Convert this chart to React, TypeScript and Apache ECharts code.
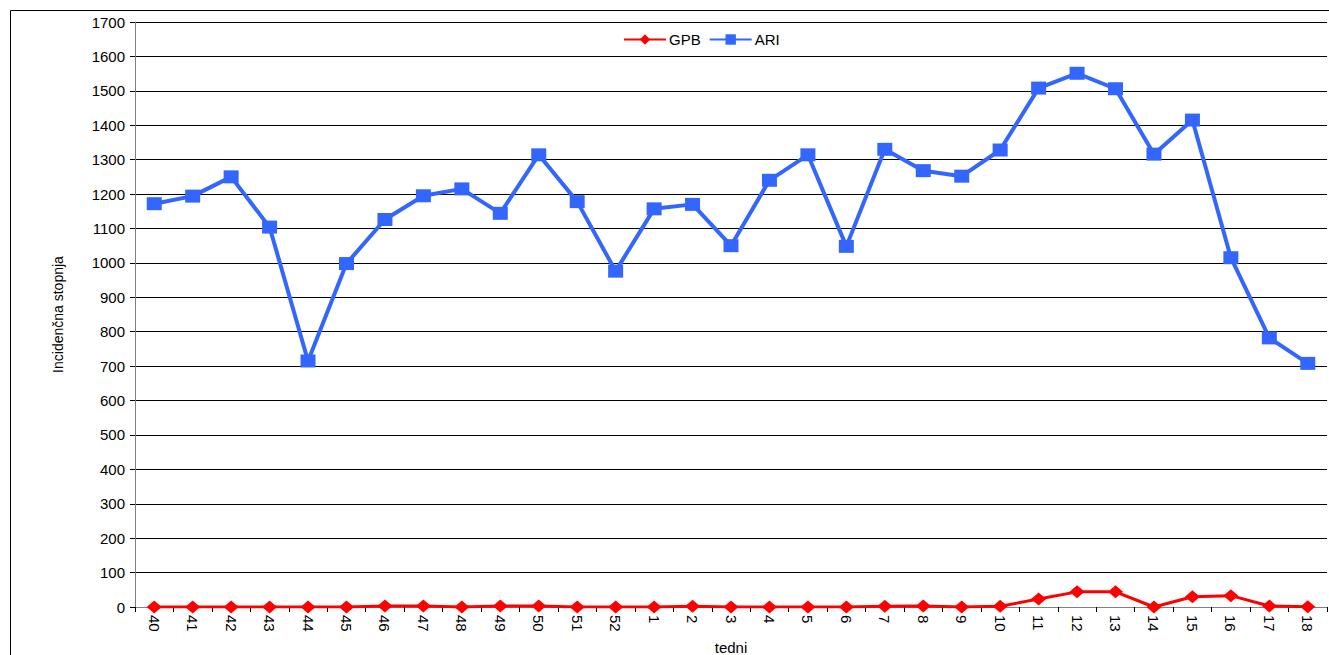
import React, { useEffect, useRef } from "react";
import * as echarts from "echarts";

const weeks = ["40","41","42","43","44","45","46","47","48","49","50","51","52","1","2","3","4","5","6","7","8","9","10","11","12","13","14","15","16","17","18"];
const gpb = [0,0,0,0,0,0,3,3,0,3,3,0,0,0,2,0,0,0,0,2,3,0,2,23,44,44,0,30,33,3,1];
const ari = [1172,1194,1250,1104,715,998,1126,1195,1215,1144,1314,1178,976,1157,1170,1050,1240,1314,1048,1330,1268,1252,1328,1508,1551,1506,1316,1415,1015,782,708];
const yTicks = { min: 0, max: 1700, interval: 100 };

export default function App() {
  const ref = useRef<HTMLDivElement>(null);
  useEffect(() => {
    if (!ref.current) return;
    const chart = echarts.init(ref.current, null, { renderer: "svg" });
    const font = "'Liberation Sans', Arial, sans-serif";
    chart.setOption({
      animation: false,
      backgroundColor: "#ffffff",
      textStyle: { fontFamily: font },
      graphic: [
        {
          type: "rect",
          shape: { x: 10.5, y: 10.5, width: 1400, height: 700 },
          style: { fill: "none", stroke: "#000", lineWidth: 1 },
          silent: true,
          z: -10,
        },
      ],
      legend: {
        top: 27,
        left: 618,
        itemWidth: 42,
        itemHeight: 13,
        itemGap: 8,
        textStyle: { fontSize: 15, color: "#000", fontFamily: font, padding: [0, 0, 0, -2] },
        data: ["GPB", "ARI"],
      },
      grid: { left: 135, top: 22, width: 1192, height: 585, containLabel: false, outerBoundsMode: "none" },
      xAxis: {
        type: "category",
        data: weeks,
        boundaryGap: true,
        name: "tedni",
        nameLocation: "middle",
        nameGap: 30,
        nameTextStyle: { fontSize: 15, color: "#000", fontFamily: font },
        axisLine: { lineStyle: { color: "#808080", width: 1 } },
        axisTick: { show: true, alignWithLabel: false, length: 5, lineStyle: { color: "#000" } },
        axisLabel: { rotate: -90, fontSize: 15, color: "#000", margin: 8, interval: 0, fontFamily: font },
      },
      yAxis: {
        type: "value",
        min: yTicks.min,
        max: yTicks.max,
        interval: yTicks.interval,
        name: "Incidenčna stopnja",
        nameLocation: "middle",
        nameGap: 70,
        nameRotate: 90,
        nameTextStyle: { fontSize: 14, color: "#000", fontFamily: font },
        axisLine: { show: true, lineStyle: { color: "#808080", width: 1 } },
        axisTick: { show: true, inside: false, length: 5, lineStyle: { color: "#000" } },
        axisLabel: { fontSize: 15, color: "#000", margin: 10, fontFamily: font, formatter: (v: number) => String(v) },
        splitLine: { show: true, lineStyle: { color: "#000", width: 1 } },
      },
      series: [
        {
          name: "GPB",
          type: "line",
          data: gpb,
          symbol: "diamond",
          symbolSize: [15, 13],
          itemStyle: { color: "#ff0000" },
          lineStyle: { color: "#ff0000", width: 3 },
          z: 3,
        },
        {
          name: "ARI",
          type: "line",
          data: ari,
          symbol: "rect",
          symbolSize: [15, 13],
          itemStyle: { color: "#3366ff" },
          lineStyle: { color: "#3366ff", width: 4 },
          z: 2,
        },
      ],
    });
    return () => chart.dispose();
  }, []);
  return (
    <div
      ref={ref}
      style={{ position: "fixed", left: 0, top: 0, width: 1329, height: 655 }}
    />
  );
}
